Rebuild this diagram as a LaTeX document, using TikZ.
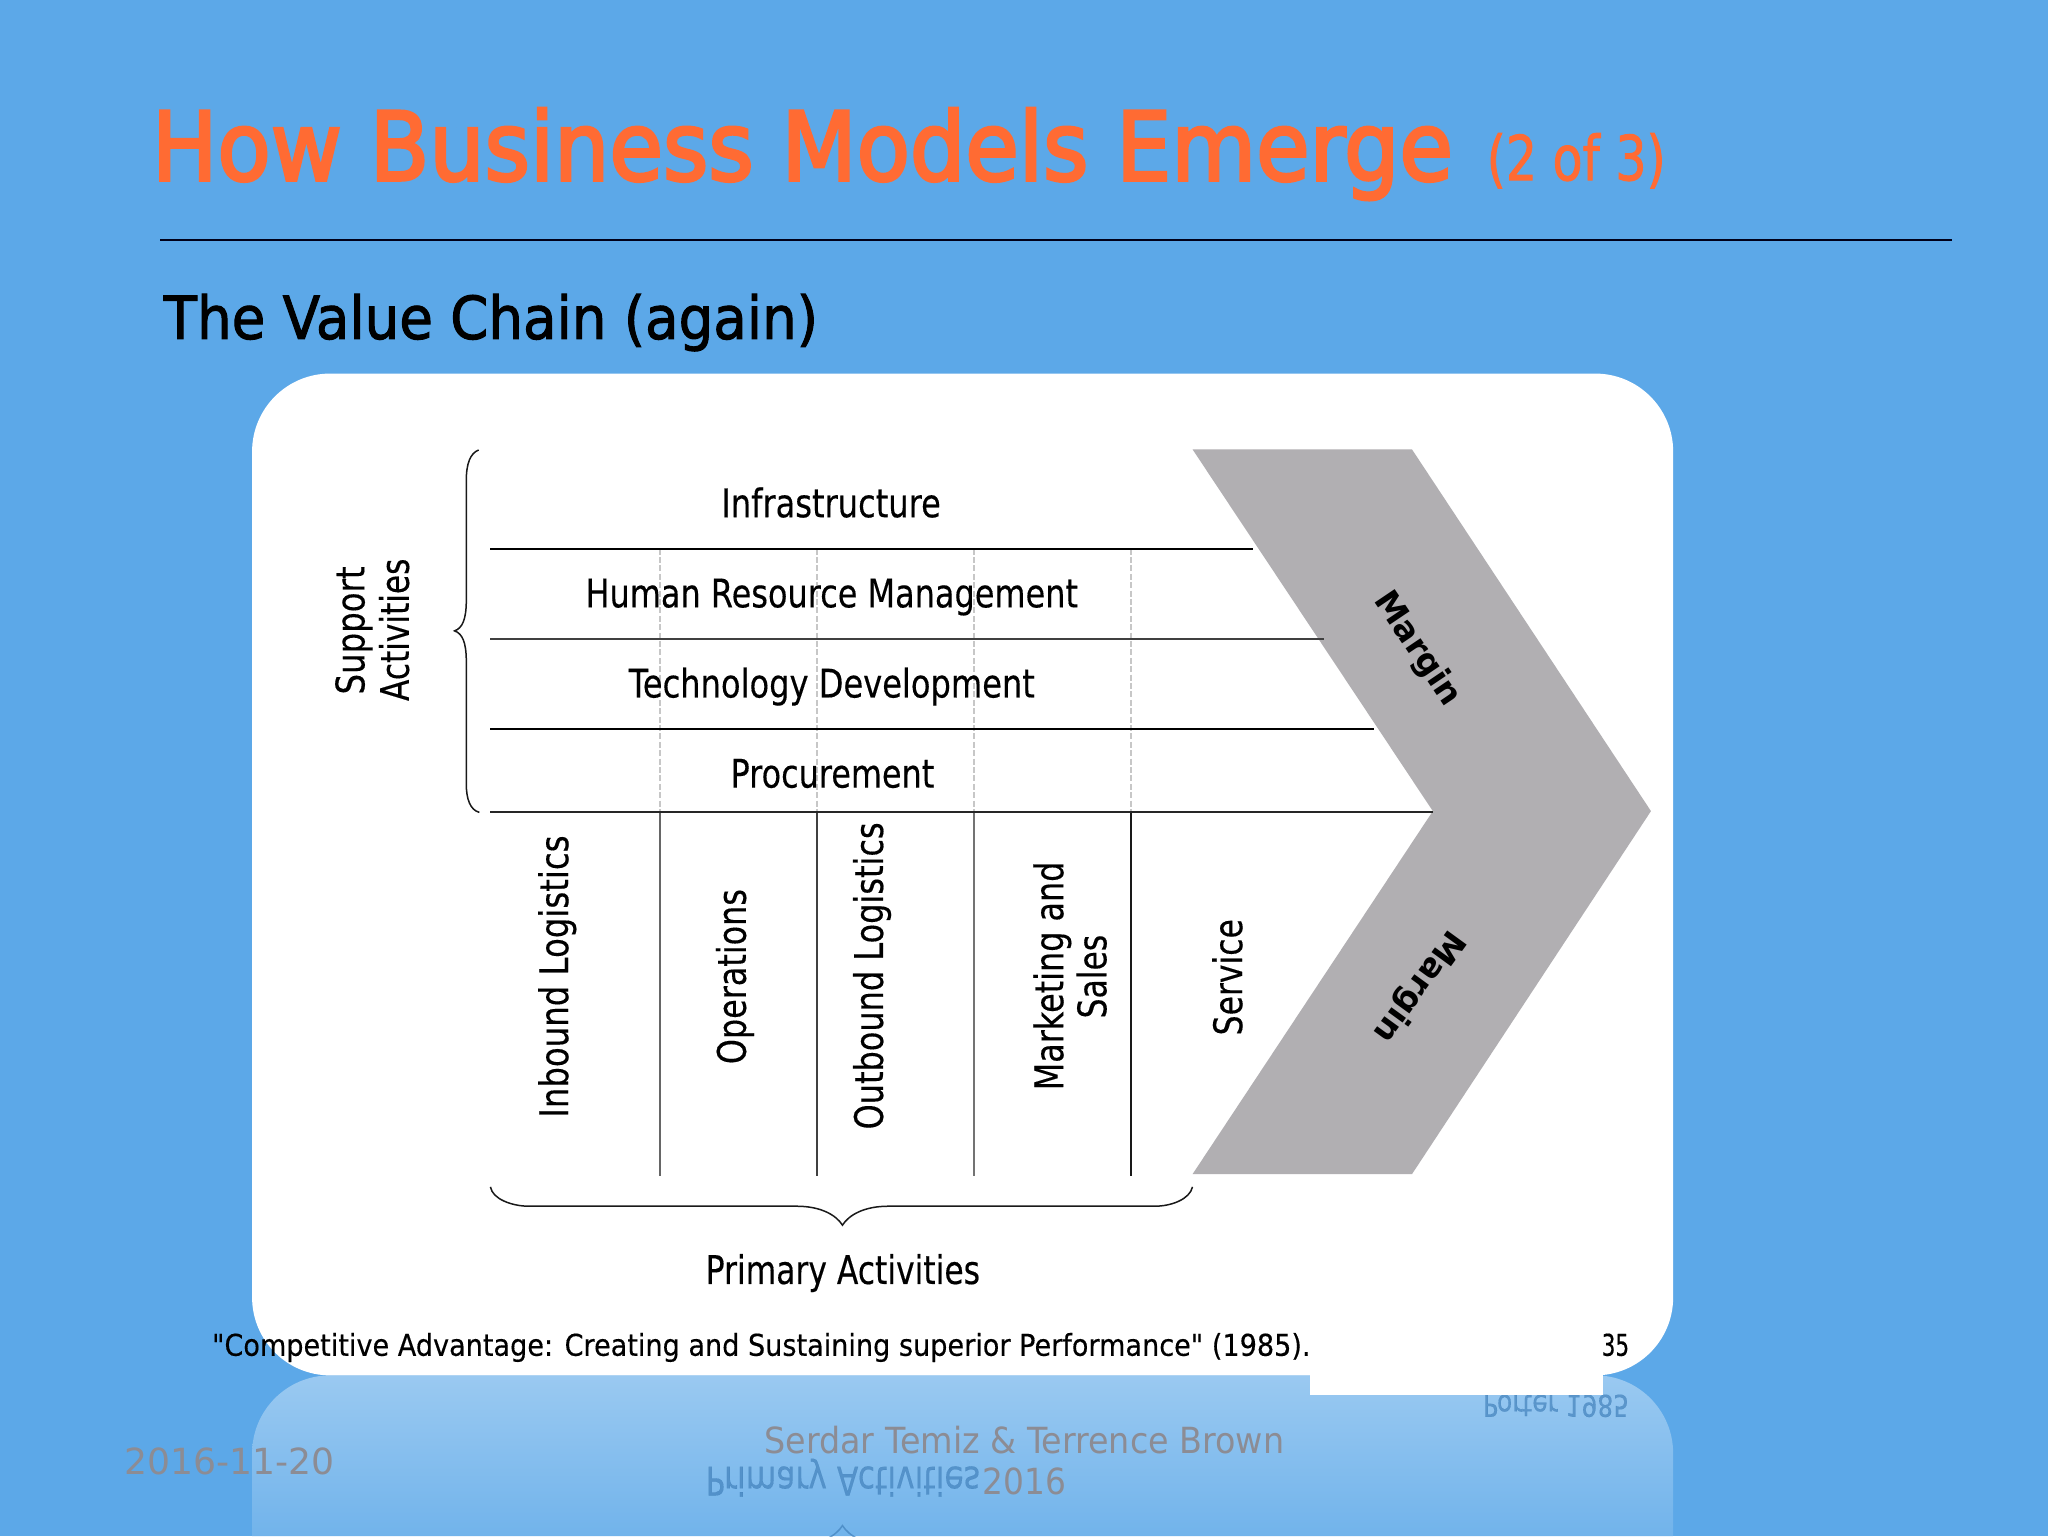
\documentclass[tikz,border=0pt]{standalone}
\usepackage{fontspec}
\usepackage{graphicx}
\setmainfont{DejaVu Sans}
\newfontfamily\titlef[FakeBold=3.2]{DejaVu Sans}
\newfontfamily\subf[FakeBold=1.6]{DejaVu Sans}
\newfontfamily\headf[FakeBold=1.8]{DejaVu Sans}
\newfontfamily\bodyf[FakeBold=0.35]{DejaVu Sans}
\newdimen\ux \ux=0.65306pt
\newcommand{\fx}[3]{\resizebox{#1\ux}{\height}{\fontsize{#2pt}{#2pt}\selectfont #3}}
\definecolor{bgblue}{HTML}{5CA8E8}
\definecolor{titleor}{HTML}{FF6B33}
\definecolor{chev}{HTML}{B1AFB2}
\definecolor{foot}{HTML}{8C8C94}
\definecolor{mirr}{HTML}{3D7DB8}
\tikzset{
  lbl/.style={inner sep=0pt,anchor=base west},
  vlbl/.style={inner sep=0pt,anchor=base west,rotate=90},
  hline/.style={line width=1pt},
  vdash/.style={line width=0.9pt,draw=black!22,dash pattern=on 3pt off 1.2pt},
  brace/.style={line width=0.75pt,draw=black!90},
}
\begin{document}
\begin{tikzpicture}[x=0.65306pt,y=-0.65306pt]
\useasboundingbox (0,0) rectangle (1568,1176);
\fill[bgblue] (0,0) rectangle (1568,1176);
% reflection
\shade[top color=white!38!bgblue,bottom color=white!13!bgblue]
  (193,1176) [rounded corners=39pt] -- (193,1053) -- (1281,1053) [sharp corners] -- (1281,1176) -- cycle;
% title
\node[lbl,text=titleor] (title) at (116,138) {\fx{996}{47.5}{\titlef How Business Models Emerge}};
\node[lbl,text=titleor] (titlesub) at (1138,138) {\fx{137}{31}{\subf (2 of 3)}};
\draw[line width=1pt,black!90!blue] (122.5,184) -- (1494.5,184);
\node[lbl] (subhead) at (125,259.5) {\fx{501}{29.6}{\headf The Value Chain (again)}};
% white panel
\fill[white,rounded corners=39pt] (193,286) rectangle (1281,1053);
% chevron
\fill[chev] (913,344) -- (1081,344) -- (1264,621) -- (1081,899) -- (913,899) -- (1097,621) -- cycle;
% dashed column lines
\foreach \x in {505.4,625.6,745.8,866} \draw[vdash] (\x,420) -- (\x,622);
% column lines
\draw[hline,black!60] (505.4,622) -- (505.4,900.5);
\draw[hline,black!75] (625.6,622) -- (625.6,900.5);
\draw[hline,black!55] (745.8,622) -- (745.8,900.5);
\draw[hline,black!90] (866,622) -- (866,900.5);
% horizontal lines
\draw[hline,black] (375.5,420) -- (959,420);
\draw[hline,black!75] (375.5,489) -- (1014,489);
\draw[hline,black] (375.5,558) -- (1052,558);
\draw[hline,black!85] (375.5,622) -- (1097,622);
% labels
\node[lbl] (inf) at (552,396) {\fx{168}{19.7}{\bodyf Infrastructure}};
\node[lbl] (hrm) at (448,465) {\fx{377}{19.7}{\bodyf Human Resource Management}};
\node[lbl] (tec) at (481,534) {\fx{311}{19.7}{\bodyf Technology Development}};
\node[lbl] (pro) at (559,603) {\fx{156}{19.7}{\bodyf Procurement}};
\node[lbl] (pri) at (540,983) {\fx{210}{19.7}{\bodyf Primary Activities}};
\node[vlbl] (sup) at (279,532) {\fx{98}{19.7}{\bodyf Support}};
\node[vlbl] (act) at (313,537) {\fx{109}{19.7}{\bodyf Activities}};
\node[vlbl] (inb) at (435,856) {\fx{216}{19.7}{\bodyf Inbound Logistics}};
\node[vlbl] (ope) at (571,815) {\fx{134}{19.7}{\bodyf Operations}};
\node[vlbl] (out) at (676,865) {\fx{235}{19.7}{\bodyf Outbound Logistics}};
\node[vlbl] (mar) at (814,835) {\fx{175}{19.7}{\bodyf Marketing and}};
\node[vlbl] (sal) at (847,780) {\fx{64}{19.7}{\bodyf Sales}};
\node[vlbl] (ser) at (951,793) {\fx{89}{19.7}{\bodyf Service}};
\node[inner sep=0pt,rotate=-56] (m1) at (1085,497) {\fontsize{16.5}{16.5}\selectfont\bfseries Margin};
\node[inner sep=0pt,rotate=-126] (m2) at (1086,755) {\fontsize{16.5}{16.5}\selectfont\bfseries Margin};
% braces
\draw[brace] (366.5,344.5) .. controls (360,347) and (357,355) .. (357,368)
  -- (357,460) .. controls (357,474) and (354,481) .. (348,483)
  .. controls (354,485) and (357,492) .. (357,506)
  -- (357,600) .. controls (357,612) and (360,620) .. (367,622);
\draw[brace] (375.5,908.7) .. controls (377,918) and (392,923.5) .. (405,923.5)
  -- (610,923.5) .. controls (628,923.5) and (640,930) .. (645,938)
  .. controls (650,930) and (662,923.5) .. (680,923.5)
  -- (884,923.5) .. controls (897,923.5) and (911,918) .. (913,908.7);
% mirrored fragments
\begin{scope}[opacity=.65]
\node[lbl,text=mirr,yscale=-1] (mpri) at (540,1123) {\fx{210}{19.7}{\bodyf Primary Activities}};
\node[lbl,text=mirr,yscale=-1] (mpor) at (1135,1068) {\fx{112}{15}{\bodyf Porter 1985}};
\draw[brace,draw=mirr] (610,1183) .. controls (628,1183) and (640,1176) .. (645,1168)
  .. controls (650,1176) and (662,1183) .. (680,1183);
\end{scope}
% citation and patch
\node[lbl] (cit) at (162,1038) {\fx{841}{15}{\bodyf \symbol{34}Competitive Advantage: Creating and Sustaining superior Performance\symbol{34} (1985).}};
\fill[white] (1003,1000) rectangle (1227,1068);
\node[lbl] (cit2) at (1226,1038) {\fx{21}{15}{\bodyf 35}};
% footer
\node[lbl,text=foot] (date) at (95,1129) {\fx{161}{18}{2016-11-20}};
\node[lbl,text=foot] (auth) at (585,1113) {\fx{398}{18}{Serdar Temiz \& Terrence Brown}};
\node[lbl,text=foot] (year) at (752,1144) {\fx{64}{18}{2016}};
\end{tikzpicture}
\end{document}
